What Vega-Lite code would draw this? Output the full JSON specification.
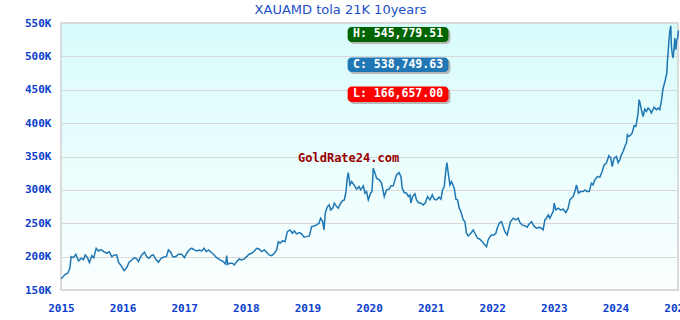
{
  "$schema": "https://vega.github.io/schema/vega-lite/v6.json",
  "autosize": {"type": "none"},
  "width": 617,
  "height": 267,
  "padding": {"left": 61, "top": 23, "right": 2, "bottom": 30},
  "background": "#ffffff",
  "title": {
    "text": "XAUAMD tola 21K 10years",
    "font": "DejaVu Sans",
    "fontSize": 13,
    "fontWeight": "normal",
    "color": "#2250c8",
    "anchor": "middle",
    "baseline": "bottom",
    "dx": -29,
    "dy": 13,
    "offset": 0
  },
  "config": {
    "view": {
      "stroke": "#d0d0d0",
      "strokeWidth": 1.5,
      "fill": {
        "gradient": "linear",
        "x1": 0, "y1": 0, "x2": 0, "y2": 1,
        "stops": [
          {"offset": 0, "color": "#d8fbfb"},
          {"offset": 1, "color": "#fbffff"}
        ]
      }
    },
    "axis": {
      "labelFont": "DejaVu Sans Mono",
      "labelFontWeight": "bold",
      "labelFontSize": 11,
      "labelColor": "#0a40cc",
      "ticks": false,
      "domain": false,
      "title": null
    }
  },
  "datasets": {
    "prices": [
      {"t":2015.003,"p":166657},{"t":2015.068,"p":173550},{"t":2015.110,"p":175050},{"t":2015.143,"p":182550},
      {"t":2015.165,"p":199950},{"t":2015.203,"p":198450},{"t":2015.240,"p":203550},{"t":2015.284,"p":193500},
      {"t":2015.328,"p":197550},{"t":2015.365,"p":195450},{"t":2015.393,"p":202500},{"t":2015.430,"p":198450},
      {"t":2015.462,"p":190950},{"t":2015.500,"p":201450},{"t":2015.532,"p":198450},{"t":2015.571,"p":212550},
      {"t":2015.608,"p":208500},{"t":2015.652,"p":210450},{"t":2015.694,"p":207450},{"t":2015.743,"p":205050},
      {"t":2015.782,"p":207450},{"t":2015.824,"p":199950},{"t":2015.868,"p":202500},{"t":2015.905,"p":202500},
      {"t":2015.933,"p":191550},{"t":2015.976,"p":186450},{"t":2016.025,"p":178950},{"t":2016.067,"p":183450},
      {"t":2016.106,"p":191550},{"t":2016.148,"p":195000},{"t":2016.192,"p":198450},{"t":2016.230,"p":196500},
      {"t":2016.257,"p":192450},{"t":2016.285,"p":198450},{"t":2016.311,"p":202500},{"t":2016.354,"p":206550},
      {"t":2016.392,"p":199950},{"t":2016.431,"p":197550},{"t":2016.463,"p":201450},{"t":2016.500,"p":202500},
      {"t":2016.538,"p":196050},{"t":2016.582,"p":191550},{"t":2016.625,"p":197550},{"t":2016.667,"p":199500},
      {"t":2016.711,"p":199950},{"t":2016.744,"p":210000},{"t":2016.781,"p":206550},{"t":2016.813,"p":199950},
      {"t":2016.862,"p":199950},{"t":2016.906,"p":203550},{"t":2016.959,"p":203550},{"t":2017.003,"p":198450},
      {"t":2017.041,"p":205050},{"t":2017.079,"p":210000},{"t":2017.122,"p":212550},{"t":2017.165,"p":210000},
      {"t":2017.203,"p":208500},{"t":2017.242,"p":210000},{"t":2017.284,"p":208500},{"t":2017.323,"p":212550},
      {"t":2017.355,"p":207450},{"t":2017.393,"p":210000},{"t":2017.436,"p":206550},{"t":2017.474,"p":203550},
      {"t":2017.527,"p":198450},{"t":2017.582,"p":195000},{"t":2017.636,"p":192450},{"t":2017.673,"p":188550},
      {"t":2017.689,"p":201450},{"t":2017.706,"p":188550},{"t":2017.745,"p":190050},{"t":2017.782,"p":190050},
      {"t":2017.814,"p":187500},{"t":2017.852,"p":192450},{"t":2017.891,"p":196500},{"t":2017.933,"p":195000},
      {"t":2017.976,"p":196500},{"t":2018.014,"p":199950},{"t":2018.053,"p":203550},{"t":2018.095,"p":205050},
      {"t":2018.139,"p":208500},{"t":2018.176,"p":212550},{"t":2018.215,"p":211500},{"t":2018.257,"p":207450},
      {"t":2018.301,"p":210000},{"t":2018.338,"p":206550},{"t":2018.377,"p":202500},{"t":2018.419,"p":201450},
      {"t":2018.463,"p":205050},{"t":2018.500,"p":210000},{"t":2018.528,"p":222450},{"t":2018.556,"p":220050},
      {"t":2018.598,"p":223950},{"t":2018.637,"p":222450},{"t":2018.674,"p":237450},{"t":2018.718,"p":240000},
      {"t":2018.755,"p":235050},{"t":2018.787,"p":238500},{"t":2018.825,"p":234000},{"t":2018.869,"p":235950},
      {"t":2018.906,"p":234000},{"t":2018.945,"p":229050},{"t":2018.987,"p":229950},{"t":2019.031,"p":231000},
      {"t":2019.068,"p":244950},{"t":2019.107,"p":246000},{"t":2019.149,"p":247500},{"t":2019.188,"p":250050},
      {"t":2019.214,"p":257550},{"t":2019.247,"p":252450},{"t":2019.269,"p":240000},{"t":2019.290,"p":265050},
      {"t":2019.323,"p":274950},{"t":2019.355,"p":277500},{"t":2019.376,"p":270000},{"t":2019.409,"p":272550},
      {"t":2019.436,"p":280050},{"t":2019.474,"p":274950},{"t":2019.501,"p":272550},{"t":2019.539,"p":280050},
      {"t":2019.571,"p":283950},{"t":2019.599,"p":285000},{"t":2019.626,"p":297450},{"t":2019.647,"p":317550},
      {"t":2019.663,"p":325950},{"t":2019.691,"p":307500},{"t":2019.717,"p":312450},{"t":2019.756,"p":307500},
      {"t":2019.798,"p":301050},{"t":2019.837,"p":304950},{"t":2019.863,"p":300000},{"t":2019.907,"p":306000},
      {"t":2019.934,"p":295050},{"t":2019.960,"p":297450},{"t":2019.988,"p":285000},{"t":2020.025,"p":295050},
      {"t":2020.048,"p":297450},{"t":2020.069,"p":332550},{"t":2020.097,"p":325050},{"t":2020.122,"p":317550},
      {"t":2020.166,"p":315000},{"t":2020.204,"p":310050},{"t":2020.231,"p":297450},{"t":2020.247,"p":289950},
      {"t":2020.285,"p":300000},{"t":2020.324,"p":301050},{"t":2020.356,"p":306000},{"t":2020.393,"p":306000},
      {"t":2020.421,"p":315000},{"t":2020.447,"p":322500},{"t":2020.486,"p":325950},{"t":2020.518,"p":319950},
      {"t":2020.539,"p":302550},{"t":2020.572,"p":295950},{"t":2020.609,"p":295050},{"t":2020.637,"p":289950},
      {"t":2020.664,"p":292500},{"t":2020.680,"p":280050},{"t":2020.706,"p":289950},{"t":2020.745,"p":294000},
      {"t":2020.771,"p":285000},{"t":2020.799,"p":280950},{"t":2020.843,"p":280050},{"t":2020.880,"p":277500},
      {"t":2020.917,"p":280950},{"t":2020.950,"p":289950},{"t":2020.989,"p":285000},{"t":2021.026,"p":292500},
      {"t":2021.058,"p":286050},{"t":2021.096,"p":285000},{"t":2021.135,"p":289050},{"t":2021.167,"p":286050},
      {"t":2021.193,"p":300000},{"t":2021.221,"p":304950},{"t":2021.248,"p":330000},{"t":2021.264,"p":340950},
      {"t":2021.286,"p":325050},{"t":2021.313,"p":307500},{"t":2021.339,"p":312450},{"t":2021.383,"p":302550},
      {"t":2021.410,"p":286050},{"t":2021.436,"p":285000},{"t":2021.464,"p":272550},{"t":2021.491,"p":267450},
      {"t":2021.529,"p":255000},{"t":2021.556,"p":252450},{"t":2021.582,"p":235050},{"t":2021.610,"p":231000},
      {"t":2021.654,"p":235050},{"t":2021.691,"p":240000},{"t":2021.719,"p":235050},{"t":2021.761,"p":227550},
      {"t":2021.800,"p":226050},{"t":2021.837,"p":222450},{"t":2021.881,"p":217500},{"t":2021.907,"p":214950},
      {"t":2021.934,"p":225000},{"t":2021.962,"p":229950},{"t":2021.988,"p":232500},{"t":2022.027,"p":232500},
      {"t":2022.059,"p":235050},{"t":2022.080,"p":242550},{"t":2022.113,"p":250050},{"t":2022.150,"p":252450},
      {"t":2022.178,"p":244950},{"t":2022.205,"p":237450},{"t":2022.243,"p":232500},{"t":2022.275,"p":244950},
      {"t":2022.296,"p":252450},{"t":2022.340,"p":257550},{"t":2022.384,"p":255000},{"t":2022.421,"p":257550},
      {"t":2022.449,"p":250950},{"t":2022.486,"p":247500},{"t":2022.530,"p":246000},{"t":2022.567,"p":244050},
      {"t":2022.599,"p":249000},{"t":2022.637,"p":252450},{"t":2022.676,"p":246000},{"t":2022.718,"p":242550},
      {"t":2022.762,"p":244050},{"t":2022.799,"p":242550},{"t":2022.826,"p":240000},{"t":2022.854,"p":255000},
      {"t":2022.880,"p":257550},{"t":2022.908,"p":262500},{"t":2022.935,"p":257550},{"t":2022.961,"p":262500},
      {"t":2022.989,"p":267450},{"t":2023.005,"p":280050},{"t":2023.032,"p":270000},{"t":2023.070,"p":272550},
      {"t":2023.107,"p":270000},{"t":2023.151,"p":271050},{"t":2023.195,"p":265950},{"t":2023.232,"p":272550},
      {"t":2023.260,"p":285000},{"t":2023.285,"p":287550},{"t":2023.313,"p":289950},{"t":2023.341,"p":297450},
      {"t":2023.367,"p":307500},{"t":2023.399,"p":295050},{"t":2023.432,"p":297450},{"t":2023.475,"p":297450},
      {"t":2023.508,"p":300000},{"t":2023.540,"p":297450},{"t":2023.573,"p":297450},{"t":2023.610,"p":310050},
      {"t":2023.637,"p":307500},{"t":2023.665,"p":315000},{"t":2023.707,"p":319950},{"t":2023.746,"p":319050},
      {"t":2023.783,"p":327450},{"t":2023.816,"p":337500},{"t":2023.853,"p":340050},{"t":2023.892,"p":351000},
      {"t":2023.925,"p":347550},{"t":2023.946,"p":334950},{"t":2023.978,"p":347550},{"t":2024.015,"p":349950},
      {"t":2024.043,"p":340950},{"t":2024.070,"p":345000},{"t":2024.096,"p":352500},{"t":2024.124,"p":357450},
      {"t":2024.152,"p":364950},{"t":2024.178,"p":370050},{"t":2024.194,"p":382500},{"t":2024.217,"p":379950},
      {"t":2024.249,"p":382500},{"t":2024.270,"p":385050},{"t":2024.303,"p":396000},{"t":2024.330,"p":394950},
      {"t":2024.351,"p":405000},{"t":2024.367,"p":415050},{"t":2024.384,"p":435000},{"t":2024.405,"p":427500},
      {"t":2024.421,"p":420000},{"t":2024.448,"p":409950},{"t":2024.476,"p":421050},{"t":2024.502,"p":417450},
      {"t":2024.529,"p":422550},{"t":2024.557,"p":420000},{"t":2024.583,"p":415050},{"t":2024.627,"p":424050},
      {"t":2024.664,"p":420000},{"t":2024.692,"p":422550},{"t":2024.719,"p":420000},{"t":2024.745,"p":432450},
      {"t":2024.768,"p":450000},{"t":2024.789,"p":457500},{"t":2024.810,"p":465000},{"t":2024.833,"p":475050},
      {"t":2024.843,"p":492450},{"t":2024.854,"p":505050},{"t":2024.865,"p":520050},{"t":2024.882,"p":537450},
      {"t":2024.898,"p":545779.51},{"t":2024.907,"p":517500},{"t":2024.919,"p":505050},{"t":2024.935,"p":497550},
      {"t":2024.951,"p":510000},{"t":2024.963,"p":527550},{"t":2024.979,"p":510000},{"t":2024.995,"p":525000},
      {"t":2025.010,"p":527550},{"t":2025.022,"p":538749.63}
    ],
    "boxes": [
      {"t":2019.652,"t2":2021.290,"p":544050,"p2":521550,"kind":"H"},
      {"t":2019.652,"t2":2021.290,"p":498450,"p2":476550,"kind":"C"},
      {"t":2019.652,"t2":2021.290,"p":454950,"p2":431550,"kind":"L"}
    ],
    "boxlabels": [
      {"t":2020.471,"p":532800,"label":"H: 545,779.51"},
      {"t":2020.471,"p":487500,"label":"C: 538,749.63"},
      {"t":2020.471,"p":443250,"label":"L: 166,657.00"}
    ],
    "mark": [
      {"t":2019.668,"p":348000,"label":"GoldRate24.com"}
    ]
  },
  "encoding": {
    "x": {
      "field": "t", "type": "quantitative",
      "scale": {"domain": [2015, 2025.015], "nice": false, "zero": false},
      "axis": {"values": [2015,2016,2017,2018,2019,2020,2021,2022,2023,2024,2025], "format": "d", "grid": false, "labelPadding": 12, "labelFlush": false, "labelOverlap": false}
    },
    "y": {
      "field": "p", "type": "quantitative",
      "scale": {"domain": [150000, 550000], "nice": false, "zero": false},
      "axis": {"values": [150000,200000,250000,300000,350000,400000,450000,500000,550000], "labelExpr": "datum.value / 1000 + 'K'", "grid": true, "gridColor": "#d8d8d8", "gridWidth": 1.2, "labelPadding": 10, "labelOverlap": false, "labelFlush": false, "labelBound": false}
    }
  },
  "layer": [
    {
      "data": {"name": "prices"},
      "mark": {"type": "line", "color": "#1f77b4", "strokeWidth": 1.5, "clip": false}
    },
    {
      "data": {"name": "mark"},
      "mark": {"type": "text", "font": "DejaVu Sans Mono", "fontWeight": "bold", "fontSize": 12, "color": "#990000", "align": "center", "baseline": "middle"},
      "encoding": {"text": {"field": "label"}}
    },
    {
      "data": {"name": "boxes"},
      "mark": {"type": "rect", "color": "#b8b8b8", "cornerRadius": 4, "xOffset": 2, "x2Offset": 2, "yOffset": 2, "y2Offset": 2},
      "encoding": {"x2": {"field": "t2"}, "y2": {"field": "p2"}}
    },
    {
      "data": {"name": "boxes"},
      "mark": {"type": "rect", "cornerRadius": 4},
      "encoding": {
        "x2": {"field": "t2"},
        "y2": {"field": "p2"},
        "color": {"field": "kind", "type": "nominal", "scale": {"domain": ["H","C","L"], "range": ["#006400","#2077b4","#ff0000"]}, "legend": null}
      }
    },
    {
      "data": {"name": "boxlabels"},
      "mark": {"type": "text", "font": "DejaVu Sans Mono", "fontWeight": "bold", "fontSize": 11.5, "color": "#ffffff", "align": "center", "baseline": "middle"},
      "encoding": {"text": {"field": "label"}}
    }
  ]
}
